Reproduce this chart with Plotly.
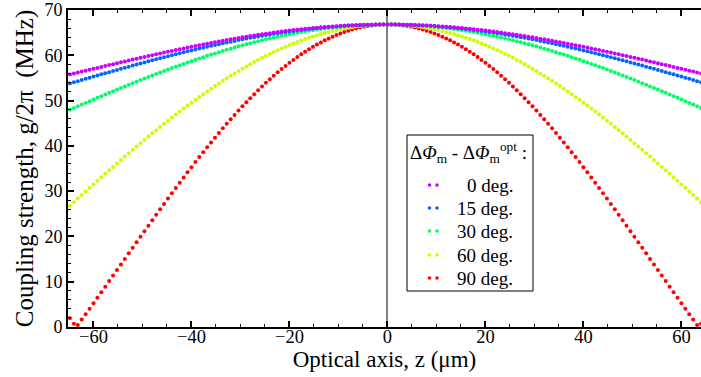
import plotly.graph_objects as go

# Optical axis position (µm)
z_um = [-64.8, -64.0, -63.2, -62.4, -61.6, -60.8, -60.0, -59.2, -58.4, -57.6, -56.8, -56.0, -55.2, -54.4, -53.6, -52.8,
        -52.0, -51.2, -50.4, -49.6, -48.8, -48.0, -47.2, -46.4, -45.6, -44.8, -44.0, -43.2, -42.4, -41.6, -40.8, -40.0,
        -39.2, -38.4, -37.6, -36.8, -36.0, -35.2, -34.4, -33.6, -32.8, -32.0, -31.2, -30.4, -29.6, -28.8, -28.0, -27.2,
        -26.4, -25.6, -24.8, -24.0, -23.2, -22.4, -21.6, -20.8, -20.0, -19.2, -18.4, -17.6, -16.8, -16.0, -15.2, -14.4,
        -13.6, -12.8, -12.0, -11.2, -10.4, -9.6, -8.8, -8.0, -7.2, -6.4, -5.6, -4.8, -4.0, -3.2, -2.4, -1.6, -0.8,
        0.0,
        0.8, 1.6, 2.4, 3.2, 4.0, 4.8, 5.6, 6.4, 7.2, 8.0, 8.8, 9.6, 10.4, 11.2, 12.0, 12.8, 13.6, 14.4, 15.2, 16.0,
        16.8, 17.6, 18.4, 19.2, 20.0, 20.8, 21.6, 22.4, 23.2, 24.0, 24.8, 25.6, 26.4, 27.2, 28.0, 28.8, 29.6, 30.4,
        31.2, 32.0, 32.8, 33.6, 34.4, 35.2, 36.0, 36.8, 37.6, 38.4, 39.2, 40.0, 40.8, 41.6, 42.4, 43.2, 44.0, 44.8,
        45.6, 46.4, 47.2, 48.0, 48.8, 49.6, 50.4, 51.2, 52.0, 52.8, 53.6, 54.4, 55.2, 56.0, 56.8, 57.6, 58.4, 59.2,
        60.0, 60.8, 61.6, 62.4, 63.2, 64.0, 64.8]

# Coupling strength g/2pi (MHz) for each phase offset
g_0deg = [55.77, 55.98, 56.19, 56.40, 56.60, 56.81, 57.02, 57.22, 57.43, 57.63, 57.84, 58.04,
          58.25, 58.45, 58.65, 58.85, 59.05, 59.25, 59.44, 59.64, 59.83, 60.03,
          60.22, 60.41, 60.60, 60.79, 60.97, 61.16, 61.34, 61.52, 61.70, 61.87,
          62.05, 62.22, 62.39, 62.56, 62.73, 62.89, 63.05, 63.21, 63.37, 63.52,
          63.67, 63.82, 63.96, 64.11, 64.25, 64.38, 64.51, 64.64, 64.77, 64.89,
          65.01, 65.13, 65.24, 65.35, 65.46, 65.56, 65.66, 65.75, 65.85, 65.93,
          66.02, 66.10, 66.17, 66.24, 66.31, 66.37, 66.43, 66.48, 66.53, 66.58,
          66.62, 66.66, 66.69, 66.72, 66.75, 66.77, 66.78, 66.79, 66.80,
          66.80,
          66.80, 66.79, 66.78, 66.77, 66.75, 66.72, 66.69, 66.66, 66.62,
          66.58, 66.53, 66.48, 66.43, 66.37, 66.31, 66.24, 66.17, 66.10, 66.02,
          65.93, 65.85, 65.75, 65.66, 65.56, 65.46, 65.35, 65.24, 65.13, 65.01,
          64.89, 64.77, 64.64, 64.51, 64.38, 64.25, 64.11, 63.96, 63.82, 63.67,
          63.52, 63.37, 63.21, 63.05, 62.89, 62.73, 62.56, 62.39, 62.22, 62.05,
          61.87, 61.70, 61.52, 61.34, 61.16, 60.97, 60.79, 60.60, 60.41, 60.22,
          60.03, 59.83, 59.64, 59.44, 59.25, 59.05, 58.85, 58.65, 58.45, 58.25,
          58.04, 57.84, 57.63, 57.43, 57.22, 57.02, 56.81, 56.60, 56.40, 56.19,
          55.98, 55.77]

g_15deg = [53.79, 54.04, 54.29, 54.55, 54.80, 55.05, 55.30, 55.54, 55.79, 56.04, 56.28, 56.53,
           56.77, 57.01, 57.25, 57.49, 57.73, 57.97, 58.20, 58.43, 58.66, 58.89,
           59.12, 59.35, 59.57, 59.79, 60.01, 60.23, 60.45, 60.66, 60.87, 61.08,
           61.28, 61.49, 61.69, 61.88, 62.08, 62.27, 62.46, 62.64, 62.83, 63.01,
           63.18, 63.35, 63.52, 63.69, 63.85, 64.01, 64.16, 64.31, 64.46, 64.60,
           64.74, 64.88, 65.01, 65.14, 65.26, 65.38, 65.49, 65.60, 65.70, 65.80,
           65.90, 65.99, 66.08, 66.16, 66.24, 66.31, 66.38, 66.44, 66.50, 66.55,
           66.60, 66.64, 66.68, 66.71, 66.74, 66.76, 66.78, 66.79, 66.80,
           66.80,
           66.80, 66.79, 66.78, 66.76, 66.74, 66.71, 66.68, 66.64, 66.60,
           66.55, 66.50, 66.44, 66.38, 66.31, 66.24, 66.16, 66.08, 65.99, 65.90,
           65.80, 65.70, 65.60, 65.49, 65.38, 65.26, 65.14, 65.01, 64.88, 64.74,
           64.60, 64.46, 64.31, 64.16, 64.01, 63.85, 63.69, 63.52, 63.35, 63.18,
           63.01, 62.83, 62.64, 62.46, 62.27, 62.08, 61.88, 61.69, 61.49, 61.28,
           61.08, 60.87, 60.66, 60.45, 60.23, 60.01, 59.79, 59.57, 59.35, 59.12,
           58.89, 58.66, 58.43, 58.20, 57.97, 57.73, 57.49, 57.25, 57.01, 56.77,
           56.53, 56.28, 56.04, 55.79, 55.54, 55.30, 55.05, 54.80, 54.55, 54.29,
           54.04, 53.79]

g_30deg = [47.98, 48.36, 48.74, 49.11, 49.49, 49.86, 50.23, 50.60, 50.97, 51.34, 51.70, 52.06,
           52.42, 52.78, 53.13, 53.49, 53.84, 54.18, 54.53, 54.87, 55.20, 55.54,
           55.87, 56.20, 56.53, 56.85, 57.17, 57.48, 57.80, 58.10, 58.41, 58.71,
           59.00, 59.30, 59.58, 59.87, 60.15, 60.42, 60.69, 60.95, 61.22, 61.47,
           61.72, 61.97, 62.21, 62.44, 62.67, 62.90, 63.11, 63.33, 63.53, 63.74,
           63.93, 64.12, 64.30, 64.48, 64.65, 64.82, 64.98, 65.13, 65.28, 65.42,
           65.55, 65.68, 65.80, 65.91, 66.02, 66.12, 66.21, 66.30, 66.38, 66.45,
           66.52, 66.58, 66.63, 66.68, 66.71, 66.75, 66.77, 66.79, 66.80,
           66.80,
           66.80, 66.79, 66.77, 66.75, 66.71, 66.68, 66.63, 66.58, 66.52,
           66.45, 66.38, 66.30, 66.21, 66.12, 66.02, 65.91, 65.80, 65.68, 65.55,
           65.42, 65.28, 65.13, 64.98, 64.82, 64.65, 64.48, 64.30, 64.12, 63.93,
           63.74, 63.53, 63.33, 63.11, 62.90, 62.67, 62.44, 62.21, 61.97, 61.72,
           61.47, 61.22, 60.95, 60.69, 60.42, 60.15, 59.87, 59.58, 59.30, 59.00,
           58.71, 58.41, 58.10, 57.80, 57.48, 57.17, 56.85, 56.53, 56.20, 55.87,
           55.54, 55.20, 54.87, 54.53, 54.18, 53.84, 53.49, 53.13, 52.78, 52.42,
           52.06, 51.70, 51.34, 50.97, 50.60, 50.23, 49.86, 49.49, 49.11, 48.74,
           48.36, 47.98]

g_60deg = [26.77, 27.56, 28.35, 29.14, 29.93, 30.71, 31.49, 32.27, 33.05, 33.82, 34.59, 35.35,
           36.12, 36.87, 37.63, 38.38, 39.12, 39.86, 40.59, 41.32, 42.04, 42.76,
           43.47, 44.17, 44.87, 45.56, 46.24, 46.91, 47.58, 48.24, 48.89, 49.54,
           50.17, 50.79, 51.41, 52.02, 52.62, 53.20, 53.78, 54.35, 54.91, 55.46,
           55.99, 56.52, 57.03, 57.53, 58.03, 58.50, 58.97, 59.43, 59.87, 60.30,
           60.72, 61.12, 61.51, 61.89, 62.26, 62.61, 62.95, 63.27, 63.59, 63.88,
           64.17, 64.44, 64.69, 64.93, 65.16, 65.37, 65.57, 65.75, 65.92, 66.07,
           66.21, 66.33, 66.44, 66.54, 66.62, 66.68, 66.74, 66.77, 66.79,
           66.80,
           66.79, 66.77, 66.74, 66.68, 66.62, 66.54, 66.44, 66.33, 66.21,
           66.07, 65.92, 65.75, 65.57, 65.37, 65.16, 64.93, 64.69, 64.44, 64.17,
           63.88, 63.59, 63.27, 62.95, 62.61, 62.26, 61.89, 61.51, 61.12, 60.72,
           60.30, 59.87, 59.43, 58.97, 58.50, 58.03, 57.53, 57.03, 56.52, 55.99,
           55.46, 54.91, 54.35, 53.78, 53.20, 52.62, 52.02, 51.41, 50.79, 50.17,
           49.54, 48.89, 48.24, 47.58, 46.91, 46.24, 45.56, 44.87, 44.17, 43.47,
           42.76, 42.04, 41.32, 40.59, 39.86, 39.12, 38.38, 37.63, 36.87, 36.12,
           35.35, 34.59, 33.82, 33.05, 32.27, 31.49, 30.71, 29.93, 29.14, 28.35,
           27.56, 26.77]

g_90deg = [1.92, 0.74, 0.45, 1.64, 2.84, 4.05, 5.26, 6.47, 7.69, 8.91, 10.14, 11.36,
           12.59, 13.82, 15.04, 16.27, 17.50, 18.72, 19.94, 21.16, 22.37, 23.58,
           24.79, 25.99, 27.18, 28.36, 29.54, 30.71, 31.87, 33.02, 34.16, 35.29,
           36.41, 37.52, 38.61, 39.69, 40.76, 41.81, 42.85, 43.87, 44.87, 45.86,
           46.83, 47.79, 48.72, 49.64, 50.54, 51.41, 52.27, 53.10, 53.92, 54.71,
           55.48, 56.23, 56.95, 57.65, 58.33, 58.98, 59.61, 60.22, 60.80, 61.35,
           61.88, 62.38, 62.85, 63.30, 63.73, 64.12, 64.49, 64.83, 65.15, 65.43,
           65.70, 65.93, 66.13, 66.31, 66.46, 66.58, 66.68, 66.75, 66.79,
           66.80,
           66.79, 66.75, 66.68, 66.58, 66.46, 66.31, 66.13, 65.93, 65.70,
           65.43, 65.15, 64.83, 64.49, 64.12, 63.73, 63.30, 62.85, 62.38, 61.88,
           61.35, 60.80, 60.22, 59.61, 58.98, 58.33, 57.65, 56.95, 56.23, 55.48,
           54.71, 53.92, 53.10, 52.27, 51.41, 50.54, 49.64, 48.72, 47.79, 46.83,
           45.86, 44.87, 43.87, 42.85, 41.81, 40.76, 39.69, 38.61, 37.52, 36.41,
           35.29, 34.16, 33.02, 31.87, 30.71, 29.54, 28.36, 27.18, 25.99, 24.79,
           23.58, 22.37, 21.16, 19.94, 18.72, 17.50, 16.27, 15.04, 13.82, 12.59,
           11.36, 10.14, 8.91, 7.69, 6.47, 5.26, 4.05, 2.84, 1.64, 0.45,
           0.74, 1.92]

legend_labels = ["0 deg.", "15 deg.", "30 deg.", "60 deg.", "90 deg."]
series_values = [g_0deg, g_15deg, g_30deg, g_60deg, g_90deg]
series_colors = ["rgb(204,0,255)", "rgb(0,102,255)", "rgb(0,255,102)", "rgb(204,255,0)", "rgb(255,0,0)"]

FONT = "Liberation Serif, Times New Roman, serif"

fig = go.Figure()
# draw the 90 deg series first so that the 0 deg series ends on top
for label, vals, col in reversed(list(zip(legend_labels, series_values, series_colors))):
    fig.add_trace(go.Scatter(x=z_um, y=vals, mode="markers", name=label,
                             marker=dict(size=4, color=col, line=dict(width=0)),
                             showlegend=False, hoverinfo="x+y+name"))

# manual legend box (layout only)
L, R, T, B = 68, 0, 10, 50
W, H = 701, 377
pw, ph = W - L - R, H - T - B


def px_x(p):
    return (p - L) / pw


def px_y(p):
    return (H - B - p) / ph


shapes = [dict(type="rect", xref="paper", yref="paper",
               x0=px_x(407), x1=px_x(533), y0=px_y(291), y1=px_y(135),
               line=dict(color="black", width=1), fillcolor="white", layer="above")]
annotations = [dict(xref="paper", yref="paper", x=px_x(468), y=px_y(152),
                    text="Δ<i>Φ</i><sub>m</sub> - Δ<i>Φ</i><sub>m</sub><sup>opt</sup> :",
                    showarrow=False, xanchor="center", yanchor="middle",
                    font=dict(family=FONT, size=19, color="black"))]
row_y = [185, 208, 231, 255, 278]
for label, col, yy in zip(legend_labels, series_colors, row_y):
    for xx in (429.5, 437):
        shapes.append(dict(type="circle", xref="paper", yref="paper",
                           xsizemode="pixel", ysizemode="pixel",
                           xanchor=px_x(xx), yanchor=px_y(yy),
                           x0=-1.8, x1=1.8, y0=-1.8, y1=1.8,
                           fillcolor=col, line=dict(width=0), layer="above"))
    annotations.append(dict(xref="paper", yref="paper", x=px_x(515), y=px_y(yy),
                            text=label, showarrow=False, xanchor="right", yanchor="middle",
                            font=dict(family=FONT, size=19, color="black")))

fig.update_layout(
    width=W, height=H,
    margin=dict(l=L, r=R, t=T, b=B, autoexpand=False),
    paper_bgcolor="white", plot_bgcolor="white",
    font=dict(family=FONT, color="black"),
    shapes=shapes, annotations=annotations,
    xaxis=dict(range=[-65.2, 64.0], tick0=0, dtick=20, ticks="inside", ticklen=6, tickwidth=1.5,
               tickcolor="black", showline=True, linecolor="black", linewidth=2, mirror="ticks",
               showgrid=False, zeroline=True, zerolinecolor="#808080", zerolinewidth=2,
               minor=dict(dtick=5, ticks="inside", ticklen=3, tickwidth=1, tickcolor="black", showgrid=False),
               tickfont=dict(family=FONT, size=18.5, color="black"), ticklabelstandoff=-8,
               ticklabeloverflow="allow",
               title=dict(text="Optical axis, z (μm)", font=dict(family=FONT, size=23, color="black"), standoff=0),
               automargin=False),
    yaxis=dict(range=[0, 70], tick0=0, dtick=10, ticks="inside", ticklen=6, tickwidth=1.5,
               tickcolor="black", showline=True, linecolor="black", linewidth=2, mirror=False,
               showgrid=False, zeroline=False,
               minor=dict(dtick=2, ticks="inside", ticklen=3, tickwidth=1, tickcolor="black", showgrid=False),
               tickfont=dict(family=FONT, size=18, color="black"), ticklabeloverflow="allow",
               title=dict(text="Coupling strength, g/2π&nbsp; (MHz)", font=dict(family=FONT, size=25, color="black"), standoff=4),
               automargin=False),
)

fig.write_html("out.html", config={"displayModeBar": False},
               post_script="document.body.style.margin='0';document.body.style.overflow='hidden';")
